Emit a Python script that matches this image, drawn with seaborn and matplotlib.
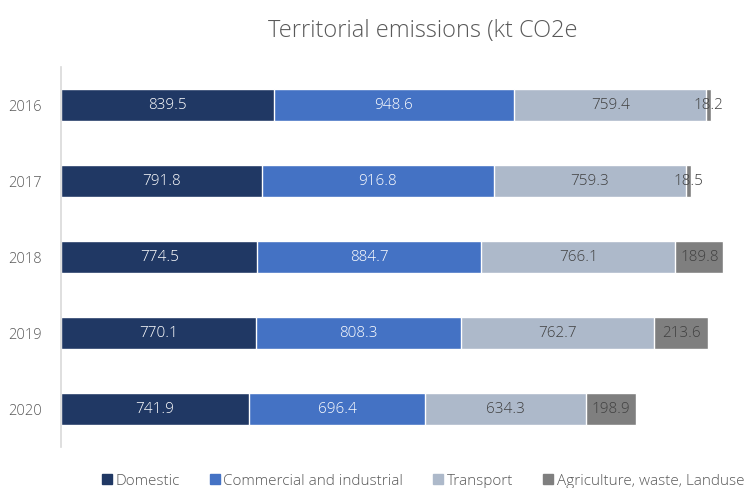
import matplotlib
matplotlib.use("Agg")
import matplotlib.pyplot as plt
from matplotlib.lines import Line2D
import numpy as np
import pandas as pd
import seaborn as sns

years = ["2016", "2017", "2018", "2019", "2020"]
domestic = [839.5, 791.8, 774.5, 770.1, 741.9]
commercial = [948.6, 916.8, 884.7, 808.3, 696.4]
transport = [759.4, 759.3, 766.1, 762.7, 634.3]
agriculture = [18.2, 18.5, 189.8, 213.6, 198.9]

series_names = ["Domestic", "Commercial and industrial", "Transport",
                "Agriculture, waste, Landuse"]
series_values = [domestic, commercial, transport, agriculture]
colors = ["#203864", "#4472C4", "#ADB9CA", "#7F7F7F"]
label_colors = ["white", "white", "#404040", "#404040"]

sns.set_theme(style="white")
plt.rcParams["font.family"] = ["Open Sans", "DejaVu Sans"]
plt.rcParams["font.weight"] = "light"

fig = plt.figure(figsize=(7.45, 4.88), dpi=100)
ax = fig.add_axes([0.0819, 0.084, 0.9181, 0.7787])

vals = np.array(series_values)
cum = np.cumsum(vals, axis=0)
starts = cum - vals

# stacked bars: draw running totals from the outermost segment inward
for k in range(len(series_names) - 1, -1, -1):
    df = pd.DataFrame({"year": years, "value": cum[k]})
    sns.barplot(data=df, x="value", y="year", orient="h", color=colors[k],
                saturation=1, width=0.41, order=years, ax=ax, errorbar=None)

for k in range(len(series_names)):
    for i in range(len(years)):
        ax.text(starts[k, i] + vals[k, i] / 2, i, f"{vals[k, i]:.1f}",
                ha="center", va="center", fontsize=11, fontweight="light",
                color=label_colors[k])

ax.set_xlim(0, 2700)
ax.set_ylim(4.5, -0.5)
ax.set_xlabel("")
ax.set_ylabel("")
ax.set_xticks([])
ax.tick_params(axis="y", length=0, pad=14, labelsize=10.5, labelcolor="#595959")
for lbl in ax.get_yticklabels():
    lbl.set_fontweight("light")
for side in ["top", "right", "bottom"]:
    ax.spines[side].set_visible(False)
ax.spines["left"].set_color("#D9D9D9")
ax.spines["left"].set_linewidth(1.2)

fig.text(0.567, 0.937, "Territorial emissions (kt CO2e", ha="center", va="center",
         fontsize=17, fontweight="light", color="#595959")

handles = [Line2D([0], [0], marker="s", linestyle="none", markersize=7,
                  markerfacecolor=c, markeredgecolor=c) for c in colors]
fig.legend(handles, series_names, loc="center", bbox_to_anchor=(0.568, 0.014),
           ncol=4, frameon=False, labelcolor="#595959",
           handlelength=0.6, handletextpad=0.25, columnspacing=2.0,
           prop={"weight": "light", "size": 11})

fig.savefig("out.png", dpi=100)
